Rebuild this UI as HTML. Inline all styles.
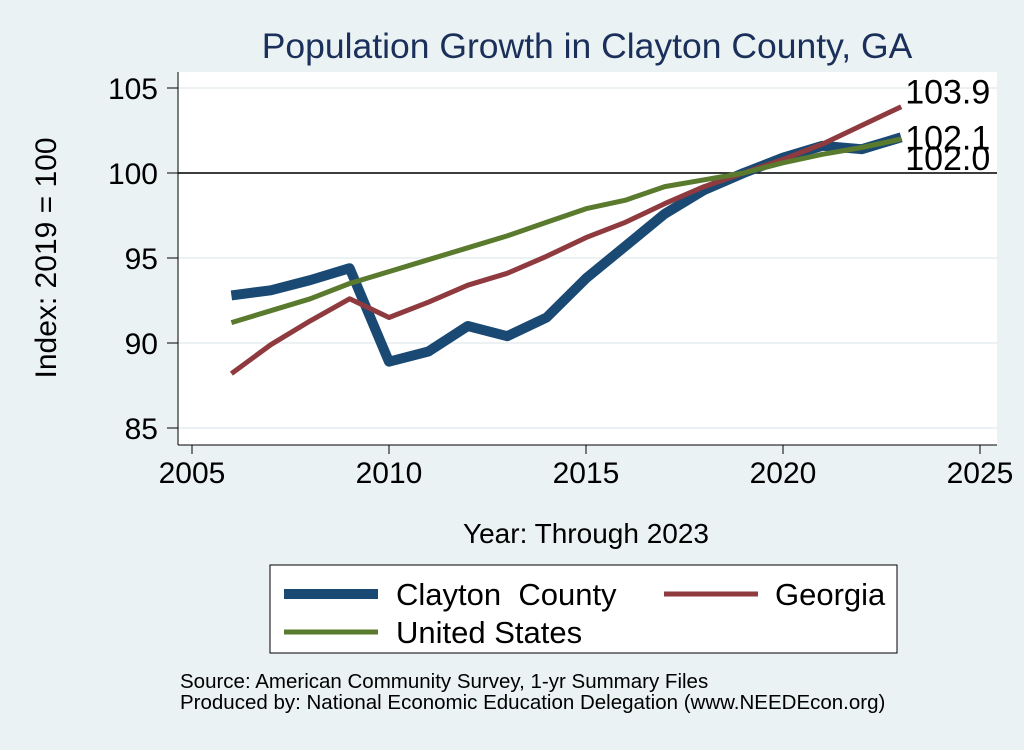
<!DOCTYPE html>
<html><head><meta charset="utf-8"><style>
body{margin:0;background:#eaf2f3;}
svg text{font-family:"Liberation Sans",Arial,sans-serif;}
</style></head><body>
<svg id="c" width="1024" height="745" xmlns="http://www.w3.org/2000/svg">
<rect width="1024" height="745" fill="#eaf2f3"/>
<text x="587" y="58" font-size="35.5" fill="#1a2f5a" text-anchor="middle">Population Growth in Clayton County, GA</text>
<rect x="178" y="72" width="819" height="373" fill="#fff"/>
<g id="grid"></g>
<g id="axes"></g>
<g id="series"></g>
<text x="56" y="258" font-size="30" text-anchor="middle" transform="rotate(-90 56 258)">Index: 2019 = 100</text>
<text x="586" y="543" font-size="28" text-anchor="middle">Year: Through 2023</text>
<g>
<rect x="270" y="565" width="627" height="88" fill="#fff" stroke="#000" stroke-width="1"/>
<g><line x1="284" y1="594" x2="378" y2="594" stroke="#1a4a73" stroke-width="10"/><text x="396" y="605" font-size="31" xml:space="preserve">Clayton  County</text></g>
<g><line x1="664" y1="594" x2="758" y2="594" stroke="#8f3a3f" stroke-width="5"/><text x="775" y="605" font-size="31">Georgia</text></g>
<g><line x1="284" y1="632" x2="378" y2="632" stroke="#5a7a2e" stroke-width="5"/><text x="396" y="643" font-size="31">United States</text></g>
</g>
<text x="180" y="688" font-size="20.5">Source: American Community Survey, 1-yr Summary Files</text>
<text x="180" y="709" font-size="20.5">Produced by: National Economic Education Delegation (www.NEEDEcon.org)</text>
</svg>
<script>
const years=[2006,2007,2008,2009,2010,2011,2012,2013,2014,2015,2016,2017,2018,2019,2020,2021,2022,2023];
const clayton=[92.8,93.1,93.7,94.4,88.9,89.5,91.0,90.4,91.5,93.8,95.7,97.6,99.0,100,100.9,101.6,101.4,102.1];
const georgia=[88.2,89.9,91.3,92.6,91.5,92.4,93.4,94.1,95.1,96.2,97.1,98.2,99.2,100,100.8,101.7,102.8,103.9];
const us=[91.2,91.9,92.6,93.5,94.2,94.9,95.6,96.3,97.1,97.9,98.4,99.2,99.6,100,100.6,101.1,101.5,102.0];
const xTicks=[2005,2010,2015,2020,2025];
const yTicks=[85,90,95,100,105];
const NS="http://www.w3.org/2000/svg";
const X=v=>192+(v-2005)*39.4;
const Y=v=>173-(v-100)*17;
function mk(t,a,p){const e=document.createElementNS(NS,t);for(const k in a)e.setAttribute(k,a[k]);p.appendChild(e);return e;}
const grid=document.getElementById('grid'),axes=document.getElementById('axes'),ser=document.getElementById('series');
yTicks.forEach(v=>{
 const g=mk('line',{x1:178,x2:997,y1:Y(v),y2:Y(v),stroke:'#e6eeef','stroke-width':1.5},grid);
 
 
 mk('line',{x1:167,x2:178,y1:Y(v),y2:Y(v),stroke:'#000'},axes);
 const t=mk('text',{x:158,y:Y(v)+11,'font-size':30,'text-anchor':'end'},axes);t.textContent=v;
 
 
});
xTicks.forEach(v=>{
 mk('line',{x1:X(v),x2:X(v),y1:445,y2:454,stroke:'#000'},axes);
 const t=mk('text',{x:X(v),y:483,'font-size':30,'text-anchor':'middle'},axes);t.textContent=v;
 
 
});
mk('line',{x1:178,x2:178,y1:72,y2:445,stroke:'#000'},axes);
mk('line',{x1:178,x2:997,y1:445,y2:445,stroke:'#000'},axes);
const ref=mk('line',{x1:178,x2:997,y1:Y(100),y2:Y(100),stroke:'#000','stroke-width':1.5},axes);


function line(vals,col,w,name,dy){
 const p=mk('polyline',{points:years.map((y,i)=>X(y)+','+Y(vals[i])).join(' '),fill:'none',stroke:col,'stroke-width':w,'stroke-linejoin':'round'},ser);
 
 
 const t=mk('text',{x:X(years[years.length-1])+4,y:Y(vals[vals.length-1])+12+dy,'font-size':34},ser);
 t.textContent=vals[vals.length-1].toFixed(1);
 
 
}
line(clayton,'#1a4a73',10,'clayton-line',0);
line(georgia,'#8f3a3f',5,'georgia-line',-15);
line(us,'#5a7a2e',5,'us-line',19);
</script>
</body></html>
